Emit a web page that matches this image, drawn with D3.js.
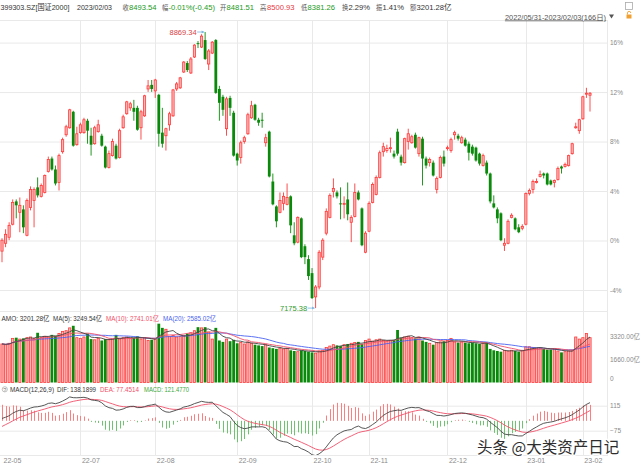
<!DOCTYPE html>
<html><head><meta charset="utf-8">
<script src="https://cdn.jsdelivr.net/npm/d3@7"></script>
<style>
html,body{margin:0;padding:0;background:#fff;}
svg{display:block;font-family:"Liberation Sans","Noto Sans CJK SC",sans-serif;}
</style></head><body>
<svg id="c" width="640" height="466"></svg>
<script>
const dates = ["2022-05-31",
"2022-06-01","2022-06-02","2022-06-06","2022-06-07","2022-06-08","2022-06-09","2022-06-10","2022-06-13","2022-06-14","2022-06-15","2022-06-16","2022-06-17","2022-06-20","2022-06-21","2022-06-22","2022-06-23","2022-06-24","2022-06-27","2022-06-28","2022-06-29","2022-06-30",
"2022-07-01","2022-07-04","2022-07-05","2022-07-06","2022-07-07","2022-07-08","2022-07-11","2022-07-12","2022-07-13","2022-07-14","2022-07-15","2022-07-18","2022-07-19","2022-07-20","2022-07-21","2022-07-22","2022-07-25","2022-07-26","2022-07-27","2022-07-28","2022-07-29",
"2022-08-01","2022-08-02","2022-08-03","2022-08-04","2022-08-05","2022-08-08","2022-08-09","2022-08-10","2022-08-11","2022-08-12","2022-08-15","2022-08-16","2022-08-17","2022-08-18","2022-08-19","2022-08-22","2022-08-23","2022-08-24","2022-08-25","2022-08-26","2022-08-29","2022-08-30","2022-08-31",
"2022-09-01","2022-09-02","2022-09-05","2022-09-06","2022-09-07","2022-09-08","2022-09-09","2022-09-13","2022-09-14","2022-09-15","2022-09-16","2022-09-19","2022-09-20","2022-09-21","2022-09-22","2022-09-23","2022-09-26","2022-09-27","2022-09-28","2022-09-29","2022-09-30",
"2022-10-10","2022-10-11","2022-10-12","2022-10-13","2022-10-14","2022-10-17","2022-10-18","2022-10-19","2022-10-20","2022-10-21","2022-10-24","2022-10-25","2022-10-26","2022-10-27","2022-10-28","2022-10-31",
"2022-11-01","2022-11-02","2022-11-03","2022-11-04","2022-11-07","2022-11-08","2022-11-09","2022-11-10","2022-11-11","2022-11-14","2022-11-15","2022-11-16","2022-11-17","2022-11-18","2022-11-21","2022-11-22","2022-11-23","2022-11-24","2022-11-25","2022-11-28","2022-11-29","2022-11-30",
"2022-12-01","2022-12-02","2022-12-05","2022-12-06","2022-12-07","2022-12-08","2022-12-09","2022-12-12","2022-12-13","2022-12-14","2022-12-15","2022-12-16","2022-12-19","2022-12-20","2022-12-21","2022-12-22","2022-12-23","2022-12-26","2022-12-27","2022-12-28","2022-12-29","2022-12-30",
"2023-01-03","2023-01-04","2023-01-05","2023-01-06","2023-01-09","2023-01-10","2023-01-11","2023-01-12","2023-01-13","2023-01-16","2023-01-17","2023-01-18","2023-01-19","2023-01-20","2023-01-30","2023-01-31",
"2023-02-01","2023-02-02","2023-02-03"];

const open = [7525,7573,7610,7690,7830,7763,7781,7622,7793,7836,
7916,7861,7885,8013,8093,8026,7946,8135,8239,8282,
8380,8178,8252,8252,8325,8233,8184,8258,8233,8166,
8038,8111,8172,8099,8282,8368,8404,8404,8404,8282,
8355,8520,8545,8508,8484,8252,8233,8300,8355,8520,
8527,8624,8679,8618,8716,8801,8777,8820,8673,8740,
8820,8520,8472,8276,8465,8374,8123,8099,8197,8245,
8343,8423,8331,8331,8190,8258,7952,7799,7763,7818,
7812,7861,7622,7580,7726,7555,7476,7390,7244,7305,
7488,7635,7732,7891,7885,7818,7812,7842,7702,7738,
7885,7787,7518,7647,7824,7873,7977,8135,8142,8154,
8123,8258,8105,8068,8197,8190,8239,8123,8215,8093,
8068,8068,7903,7977,8105,8154,8142,8239,8233,8190,
8209,8184,8166,8160,8123,8050,8068,8001,7818,7781,
7757,7561,7573,7732,7726,7671,7665,7690,7879,7903,
7946,7983,8001,8001,7958,7946,7964,8044,8044,8050,
8123,8282,8264,8337,8490,8481.51];

const high = [7604,7659,7702,7842,7842,7854,7806,7848,7922,7916,
7977,7940,7995,8105,8105,8050,8123,8221,8300,8398,
8386,8288,8313,8343,8337,8282,8294,8331,8245,8172,
8142,8215,8184,8276,8362,8447,8441,8453,8417,8392,
8484,8575,8575,8582,8490,8404,8282,8380,8520,8563,
8594,8691,8691,8716,8795,8814,8856,8869.34,8765,8814,
8826,8539,8484,8472,8478,8386,8129,8203,8233,8374,
8447,8429,8343,8374,8245,8264,8001,7806,7885,7885,
7940,7867,7702,7738,7732,7567,7500,7421,7317,7531,
7604,7787,7879,7971,7897,7916,7861,7946,7745,7940,
7897,7793,7647,7830,7946,7989,8142,8190,8178,8221,
8142,8276,8117,8221,8276,8239,8252,8227,8227,8105,
8099,8081,7983,8111,8142,8172,8221,8264,8245,8233,
8221,8197,8178,8166,8129,8123,8081,8007,7867,7793,
7763,7604,7720,7757,7732,7690,7690,7885,7909,7964,
7971,8019,8007,8007,7964,7964,8044,8050,8068,8117,
8190,8313,8337,8478,8527,8500.93];

const low = [7457,7549,7592,7683,7726,7641,7635,7616,7775,7671,
7854,7854,7879,8007,8019,7928,7897,8123,8227,8276,
8166,8172,8245,8245,8184,8111,8178,8252,8166,8032,
8032,8105,8087,8093,8276,8362,8386,8325,8264,8209,
8349,8502,8502,8465,8166,8160,8142,8264,8349,8508,
8520,8618,8624,8612,8710,8771,8771,8698,8636,8734,
8490,8325,8355,8233,8355,8105,8050,8062,8184,8239,
8337,8325,8294,8282,8166,7977,7806,7671,7757,7775,
7806,7635,7561,7573,7482,7445,7348,7231,7175.38,7290,
7470,7622,7726,7854,7848,7720,7726,7714,7580,7732,
7836,7555,7512,7641,7818,7867,7971,8105,8129,8129,
8093,8111,8050,8062,8148,8184,8154,8105,7928,8032,
8044,7983,7879,7971,8044,8142,8129,8209,8203,8184,
8166,8081,8111,8074,8050,8044,7989,7818,7787,7696,
7586,7526,7567,7726,7653,7635,7653,7683,7867,7879,
7940,7977,7971,7928,7928,7916,7958,8001,8038,8044,
8117,8276,8245,8331,8465,8381.26];

const close = [7592,7628,7683,7824,7806,7806,7671,7836,7903,7903,
7867,7928,7989,8087,8026,7940,8111,8209,8288,8392,
8172,8245,8300,8331,8264,8178,8282,8300,8172,8038,
8123,8197,8093,8264,8349,8441,8429,8380,8270,8380,
8478,8539,8520,8575,8245,8184,8276,8368,8514,8551,
8588,8685,8636,8704,8789,8795,8844,8704,8753,8807,
8496,8435,8392,8459,8404,8111,8081,8190,8221,8362,
8417,8331,8313,8325,8221,7983,7812,7708,7836,7861,
7854,7683,7573,7732,7488,7488,7372,7237,7305,7518,
7592,7769,7867,7909,7861,7812,7818,7751,7732,7885,
7842,7561,7635,7818,7934,7977,8129,8166,8154,8160,
8105,8123,8068,8215,8245,8227,8160,8221,8093,8050,
8087,7989,7971,8099,8062,8160,8209,8252,8215,8221,
8172,8129,8123,8081,8062,8111,8001,7830,7793,7726,
7592,7573,7708,7745,7659,7641,7677,7879,7897,7952,
7952,7995,7989,7934,7934,7958,8032,8032,8056,8111,
8184,8288,8331,8472,8493.99,8493.54];

// turnover amount, 亿
const amount = [2750,2700,2800,3150,3200,3100,3150,3200,3250,3150,
3550,3200,3300,3250,3400,3350,3500,3650,3700,3900,
4050,3200,3150,3250,3500,3100,3050,3150,3000,3100,
3050,3100,3400,3100,3200,3250,3150,3200,3300,3100,
3200,3000,3050,3100,4200,3900,3800,3300,3350,3250,
3300,3350,3500,3550,3700,3950,3900,3950,3600,3100,
3900,3000,2900,3100,2950,3050,2800,2850,2750,2900,
2800,2700,2650,2600,2700,2500,2450,2400,2450,2400,
2450,2300,2250,2200,2300,2250,2200,2150,2100,2250,
2300,2500,2600,2700,2650,2600,2700,2750,2800,2850,
2900,2750,3000,3100,2950,3050,3100,3000,2950,3000,
3050,3750,3200,3250,3300,3200,3150,3250,3000,2900,
2800,2700,2850,2900,2950,3000,3150,2900,2850,2900,
2850,2800,2850,2800,2750,2800,2850,2400,2300,2250,
2200,2300,2250,2300,2250,2200,2300,2550,2550,2500,
2450,2450,2400,2350,2350,2390,2250,2150,2200,2250,
2300,3250,3100,3200,3500,3201.28];

const basePrice = 7590;            // price at the 0% line
const pctTicks = [16, 12, 8, 4, 0, -4];
const volTicks = [3320, 1660, 0];
const macdTicks = [115, -75];
const monthTicks = ["22-05","22-07","22-08","22-09","22-10","22-11","22-12","23-01","23-02"];
const macdSeed = [7480, 7470, -58];   // EMA12, EMA26, DEA before first day
const topLabels = ["收","幅","开","高","低","换","振","额"];
const topValues = [["8493.54","#1a9a1a"],["-0.01%(-0.45)","#1a9a1a"],["8481.51","#1a9a1a"],["8500.93","#e8383d"],["8381.26","#1a9a1a"],["2.29%","#333"],["1.41%","#333"],["3201.28亿","#333"]];
const titleText = ["399303.SZ[国证2000]", "2023/02/03"];
const volInfo = [["AMO: 3201.28亿","#333"],["MA(5): 3249.54亿","#333"],["MA(10): 2741.01亿","#f0506a"],["MA(20): 2585.02亿","#4a62f0"]];
const macdInfo = [["MACD(12,26,9)","#333"],["DIF: 138.1899","#333"],["DEA: 77.4514","#f0506a"],["MACD: 121.4770","#3aa83a"]];
const rangeText = "2022/05/31-2023/02/03(166日)";
const watermark = "头条 @大类资产日记";

// ---------- drawing ----------
const svg = d3.select("#c");
const RIGHT = 607;
const n = dates.length;
const x = d3.scaleLinear().domain([0, n - 1]).range([2, 590]);
const yP = d3.scaleLinear().domain([-4, 16]).range([290, 42.6]);
const yPrice = v => yP((v / basePrice - 1) * 100);
const yV = d3.scaleLinear().domain([0, 3320]).range([382.5, 336]);
const yM = d3.scaleLinear().domain([-75, 115]).range([430.7, 405.7]);
const GRID = "#e9e9e9", RED = "#ff3a3a", PINK = "#ffb6b6", GREEN = "#0a8a0a", AXT = "#8a8a8a";
const FONT = '"Liberation Sans","Noto Sans CJK SC",sans-serif';

// panel borders
[20.5, 311.5, 455.5].forEach(yy => svg.append("line").attr("x1", 0).attr("x2", RIGHT).attr("y1", yy).attr("y2", yy).attr("stroke", GRID));
svg.append("line").attr("x1", RIGHT + .5).attr("x2", RIGHT + .5).attr("y1", 20).attr("y2", 456).attr("stroke", GRID);

// vertical month grid
const monthIdx = monthTicks.map(m => dates.findIndex(d => d.slice(2, 7) === m));
monthIdx.forEach((idx, k) => {
  if (k === 0) return;
  const xx = Math.round(x(idx)) + .5;
  svg.append("line").attr("x1", xx).attr("x2", xx).attr("y1", 20).attr("y2", 456).attr("stroke", GRID);
});

function styleAxis(g) {
  g.select(".domain").remove();
  g.selectAll("text").attr("fill", AXT).style("font-size", "6.5px").style("font-family", FONT);
  g.selectAll(".tick line").attr("stroke", GRID);
}
// horizontal grids
svg.append("g").call(d3.axisLeft(yP).tickValues(pctTicks).tickSize(-RIGHT).tickFormat("")).call(styleAxis);
svg.append("g").call(d3.axisLeft(yM).tickValues(macdTicks).tickSize(-RIGHT).tickFormat("")).call(styleAxis);
// right axes
svg.append("g").attr("transform", `translate(${RIGHT},0)`).call(d3.axisRight(yP).tickValues(pctTicks).tickSize(0).tickPadding(3).tickFormat(d => d + "%")).call(styleAxis);
svg.append("g").attr("transform", `translate(${RIGHT},0)`).call(d3.axisRight(yV).tickValues(volTicks).tickSize(0).tickPadding(3).tickFormat(d => d === 0 ? "0" : d.toFixed(2) + "亿")).call(styleAxis)
  .selectAll(".tick").filter(d => d === 0).select("text").attr("dy", "-0.3em");
svg.append("g").attr("transform", `translate(${RIGHT},0)`).call(d3.axisRight(yM).tickValues(macdTicks).tickSize(0).tickPadding(3)).call(styleAxis);
// date axis
const dAx = svg.append("g").attr("transform", "translate(0,455)").call(d3.axisBottom(x).tickValues(monthIdx).tickSize(0).tickPadding(3).tickFormat((d, i) => monthTicks[i])).call(styleAxis);
dAx.selectAll("text").attr("text-anchor", "start").attr("dx", "1").style("font-size", "7px");

// ---------- candles ----------
const cg = svg.append("g");
d3.range(n).forEach(i => {
  const up = close[i] >= open[i];
  const col = up ? RED : GREEN;
  const cx = x(i);
  cg.append("line").attr("x1", cx).attr("x2", cx).attr("y1", yPrice(high[i])).attr("y2", yPrice(low[i])).attr("stroke", col).attr("stroke-width", 0.9);
  const yt = yPrice(Math.max(open[i], close[i])), yb = yPrice(Math.min(open[i], close[i]));
  const h = Math.max(1, yb - yt);
  if (up) cg.append("rect").attr("x", cx - 1.1).attr("y", yt).attr("width", 2.2).attr("height", h).attr("fill", PINK).attr("stroke", RED).attr("stroke-width", 0.8);
  else cg.append("rect").attr("x", cx - 1.4).attr("y", yt).attr("width", 2.8).attr("height", h).attr("fill", GREEN);
});
// high / low markers
const hi = d3.maxIndex(high), lo = d3.minIndex(low);
function marker(i, v, col) {
  const yy = yPrice(v), cx = x(i);
  svg.append("line").attr("x1", cx - 8).attr("x2", cx - 1).attr("y1", yy).attr("y2", yy).attr("stroke", "#7ab4e0").attr("stroke-width", 0.8);
  svg.append("path").attr("d", `M${cx - 1},${yy} l-2.5,-1.5 l0,3 z`).attr("fill", "#7ab4e0");
  svg.append("text").attr("x", cx - 8.5).attr("y", yy).attr("dy", "0.35em").attr("text-anchor", "end").attr("fill", col).style("font-size", "7.5px").text(v.toFixed(2));
}
marker(hi, high[hi], "#d9423f");
marker(lo, low[lo], "#2f9a2f");

// ---------- volume ----------
const vg = svg.append("g");
d3.range(n).forEach(i => {
  const up = close[i] >= open[i];
  const cx = x(i), yt = yV(amount[i]), h = yV(0) - yt;
  if (up) vg.append("rect").attr("x", cx - 1.1).attr("y", yt).attr("width", 2.2).attr("height", h).attr("fill", PINK).attr("stroke", RED).attr("stroke-width", 0.8);
  else vg.append("rect").attr("x", cx - 1.4).attr("y", yt).attr("width", 2.8).attr("height", h).attr("fill", GREEN);
});
const ma = k => amount.map((v, i) => d3.mean(amount.slice(Math.max(0, i - k + 1), i + 1)));
const lineV = d3.line().x((d, i) => x(i)).y(d => yV(d));
[[20, "#4a62f0"], [10, "#f0506a"], [5, "#444"]].forEach(([k, c]) =>
  svg.append("path").attr("d", lineV(ma(k))).attr("fill", "none").attr("stroke", c).attr("stroke-width", 0.9));

// ---------- MACD ----------
let e12 = macdSeed[0], e26 = macdSeed[1], dea = macdSeed[2];
const difs = [], deas = [], hist = [];
close.forEach(c => {
  e12 += (c - e12) * 2 / 13; e26 += (c - e26) * 2 / 27;
  const dif = e12 - e26; dea += (dif - dea) * 0.2;
  difs.push(dif); deas.push(dea); hist.push(2 * (dif - dea));
});
svg.append("clipPath").attr("id", "mc").append("rect").attr("x", 0).attr("y", 394).attr("width", RIGHT).attr("height", 61);
const mg = svg.append("g").attr("clip-path", "url(#mc)");
hist.forEach((h, i) => {
  const cx = Math.round(x(i)) + .5;
  mg.append("line").attr("x1", cx).attr("x2", cx).attr("y1", yM(0)).attr("y2", yM(h)).attr("stroke", h >= 0 ? "#ff7d7d" : "#6cc46c").attr("stroke-width", 1);
});
const lineM = d3.line().x((d, i) => x(i)).y(d => yM(d));
mg.append("path").attr("d", lineM(deas)).attr("fill", "none").attr("stroke", "#f0506a").attr("stroke-width", 0.9);
mg.append("path").attr("d", lineM(difs)).attr("fill", "none").attr("stroke", "#444").attr("stroke-width", 0.9);

// ---------- texts ----------
const tt = (xx, yy, t, c, fs, len) => {
  const el = svg.append("text").attr("x", xx).attr("y", yy).attr("fill", c).style("font-size", fs + "px").text(t);
  if (len) el.attr("textLength", len).attr("lengthAdjust", "spacingAndGlyphs");
  return el;
};
tt(0.5, 10, titleText[0], "#333", 7.8, 69);
tt(77, 10, titleText[1], "#333", 7.8, 35);
const labX = [122.5, 162, 220, 260, 301, 342, 376, 410];
const valX = [129, 168.5, 226.5, 267, 307.5, 348.5, 382.5, 416.5];
topLabels.forEach((t, k) => tt(labX[k], 10, t, "#555", 6.3));
topValues.forEach(([t, c], k) => tt(valX[k], 10, t, c, 7.6));

svg.append("text").attr("x", 606).attr("y", 19.5).attr("text-anchor", "end").attr("fill", "#555").style("font-size", "7.4px").style("text-decoration", "underline").text(rangeText);
svg.append("path").attr("d", "M609,14.5 l5,0 l-2.5,4 z").attr("fill", "#555");
svg.append("rect").attr("x", 626.5).attr("y", 14.5).attr("width", 5).attr("height", 4).attr("fill", "#f0a030");
svg.append("path").attr("d", "M627.5,14.5 v-1.5 a1.6,1.6 0 0 1 3.2,0").attr("fill", "none").attr("stroke", "#f0a030").attr("stroke-width", 0.9);
svg.append("rect").attr("x", 625.5).attr("y", 2.5).attr("width", 7).attr("height", 7).attr("fill", "none").attr("stroke", "#aaa").attr("stroke-width", 0.8);

const volX = [1.5, 53, 106, 163], volW = [48, 49, 53, 53];
volInfo.forEach(([t, c], k) => tt(volX[k], 321, t, c, 7.2, volW[k]));
svg.append("circle").attr("cx", 4.8).attr("cy", 389.3).attr("r", 2.6).attr("fill", "none").attr("stroke", "#999").attr("stroke-width", 0.6);
tt(3.3, 391.5, "?", "#777", 5.5);
const macdX = [10, 57, 100, 144], macdW = [44, 39, 39, 45];
macdInfo.forEach(([t, c], k) => tt(macdX[k], 392, t, c, 7.2, macdW[k]));

svg.append("text").attr("x", 477).attr("y", 452.5).attr("fill", "#2e2e2e").attr("stroke", "#fff").attr("stroke-width", 2.5)
  .attr("paint-order", "stroke").style("font-family", '"Noto Sans CJK SC",sans-serif').style("font-size", "15.5px").text(watermark);
</script>
</body></html>
